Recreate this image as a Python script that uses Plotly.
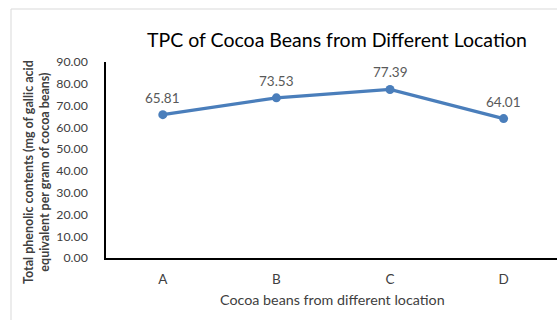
import plotly.graph_objects as go

categories = ["A", "B", "C", "D"]
values = [65.81, 73.53, 77.39, 64.01]
value_labels = ["65.81", "73.53", "77.39", "64.01"]
y_ticks = [0, 10, 20, 30, 40, 50, 60, 70, 80, 90]
y_tick_labels = ["%.2f" % v for v in y_ticks]

title_text = "TPC of Cocoa Beans from Different Location"
x_title = "Cocoa beans from different location"
y_title = "Total phenolic contents (mg of gallic acid<br>equivalent per gram of cocoa beans)"

FONT = "Lato"
W, H = 557, 320
L, R, T, B = 106, 0, 62, 62
pw = W - L - R
ph = H - T - B

fig = go.Figure()
fig.add_trace(go.Scatter(
    x=categories, y=values, mode="lines+markers",
    line=dict(color="#4a7ebb", width=3.2),
    marker=dict(color="#4a7ebb", size=9),
    hoverinfo="skip", showlegend=False,
))

for c, v, t in zip(categories, values, value_labels):
    fig.add_annotation(x=c, y=v, text=t, showarrow=False, yshift=17,
                       font=dict(family=FONT, size=13.5, color="#595959"))

def px_x(p):
    return (p - L) / pw

def px_y(p):
    return (H - B - p) / ph

fig.add_annotation(x=px_x(36), y=px_y(172), xref="paper", yref="paper",
                   text="<b>" + y_title + "</b>", textangle=-90, showarrow=False,
                   font=dict(family=FONT, size=12.5, color="#404040"),
                   xanchor="center", yanchor="middle")
fig.add_annotation(x=px_x(332), y=px_y(299), xref="paper", yref="paper",
                   text=x_title, showarrow=False,
                   font=dict(family=FONT, size=14.3, color="#404040"),
                   xanchor="center", yanchor="middle")
fig.add_annotation(x=px_x(337), y=px_y(39), xref="paper", yref="paper",
                   text=title_text, showarrow=False,
                   font=dict(family=FONT, size=19.5, color="#000000"),
                   xanchor="center", yanchor="middle")

fig.add_shape(type="rect", xref="paper", yref="paper",
              x0=px_x(11), y0=px_y(330), x1=px_x(580), y1=px_y(9),
              line=dict(color="#d9d9d9", width=1), layer="below")

fig.update_layout(
    width=W, height=H,
    margin=dict(l=L, r=R, t=T, b=B),
    paper_bgcolor="white", plot_bgcolor="white",
    font=dict(family=FONT, size=13, color="#404040"),
)
fig.update_xaxes(
    range=[-0.5, 3.47], showgrid=False, showline=True, linecolor="#000000",
    linewidth=2, ticks="", tickfont=dict(family=FONT, size=13.5, color="#404040"),
    ticklabelstandoff=8, zeroline=False,
)
fig.update_yaxes(
    range=[0, 90], tickvals=y_ticks, ticktext=y_tick_labels, showgrid=False,
    showline=True, linecolor="#000000", linewidth=1.5, ticks="",
    tickfont=dict(family=FONT, size=12.3, color="#404040"), zeroline=False,
    ticklabelstandoff=14,
)

fig.write_html("out.html")
